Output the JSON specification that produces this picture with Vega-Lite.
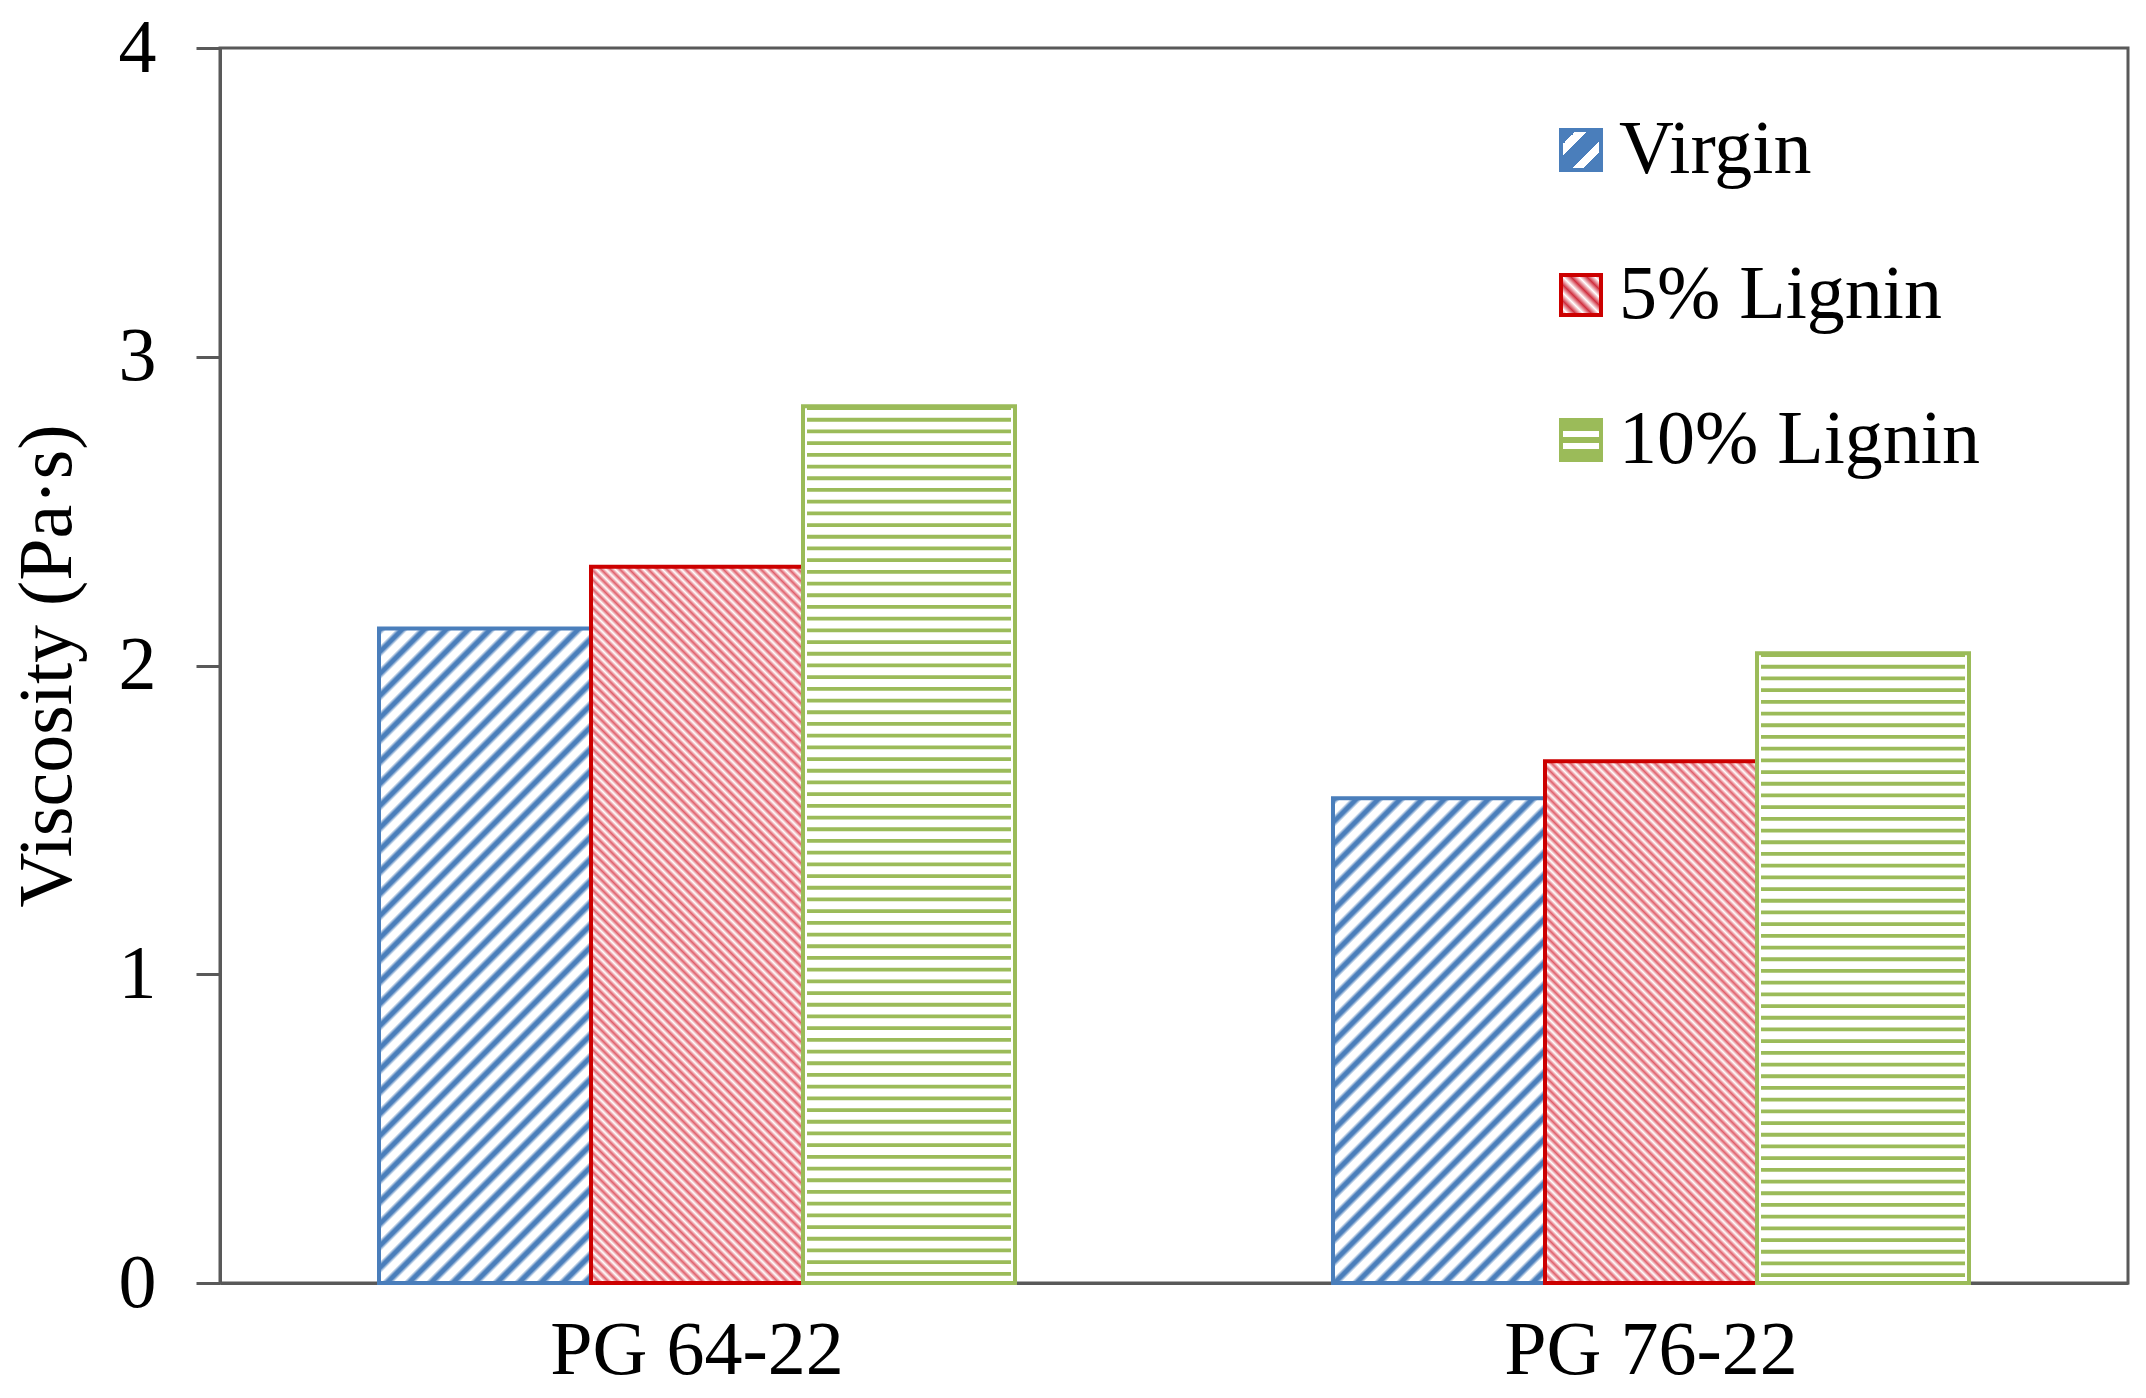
{
"$schema": "https://vega.github.io/schema/vega-lite/v6.json",
"width": 1908,
"height": 1235,
"autosize": {"type": "none"},
"padding": {"left": 220, "top": 48, "right": 18, "bottom": 115},
"background": "white",
"params": [
{"name": "bst", "value": [
{"offset":0,"color":"#4a7ebb"},{"offset":0.005,"color":"#4a7ebb"},{"offset":0.01,"color":"#fff"},{"offset":0.02,"color":"#fff"},
{"offset":0.025,"color":"#4a7ebb"},{"offset":0.03,"color":"#4a7ebb"},{"offset":0.035,"color":"#fff"},{"offset":0.045,"color":"#fff"},
{"offset":0.05,"color":"#4a7ebb"},{"offset":0.055,"color":"#4a7ebb"},{"offset":0.06,"color":"#fff"},{"offset":0.07,"color":"#fff"},
{"offset":0.075,"color":"#4a7ebb"},{"offset":0.08,"color":"#4a7ebb"},{"offset":0.085,"color":"#fff"},{"offset":0.095,"color":"#fff"},
{"offset":0.1,"color":"#4a7ebb"},{"offset":0.105,"color":"#4a7ebb"},{"offset":0.11,"color":"#fff"},{"offset":0.12,"color":"#fff"},
{"offset":0.125,"color":"#4a7ebb"},{"offset":0.13,"color":"#4a7ebb"},{"offset":0.135,"color":"#fff"},{"offset":0.145,"color":"#fff"},
{"offset":0.15,"color":"#4a7ebb"},{"offset":0.155,"color":"#4a7ebb"},{"offset":0.16,"color":"#fff"},{"offset":0.17,"color":"#fff"},
{"offset":0.175,"color":"#4a7ebb"},{"offset":0.18,"color":"#4a7ebb"},{"offset":0.185,"color":"#fff"},{"offset":0.195,"color":"#fff"},
{"offset":0.2,"color":"#4a7ebb"},{"offset":0.205,"color":"#4a7ebb"},{"offset":0.21,"color":"#fff"},{"offset":0.22,"color":"#fff"},
{"offset":0.225,"color":"#4a7ebb"},{"offset":0.23,"color":"#4a7ebb"},{"offset":0.235,"color":"#fff"},{"offset":0.245,"color":"#fff"},
{"offset":0.25,"color":"#4a7ebb"},{"offset":0.255,"color":"#4a7ebb"},{"offset":0.26,"color":"#fff"},{"offset":0.27,"color":"#fff"},
{"offset":0.275,"color":"#4a7ebb"},{"offset":0.28,"color":"#4a7ebb"},{"offset":0.285,"color":"#fff"},{"offset":0.295,"color":"#fff"},
{"offset":0.3,"color":"#4a7ebb"},{"offset":0.305,"color":"#4a7ebb"},{"offset":0.31,"color":"#fff"},{"offset":0.32,"color":"#fff"},
{"offset":0.325,"color":"#4a7ebb"},{"offset":0.33,"color":"#4a7ebb"},{"offset":0.335,"color":"#fff"},{"offset":0.345,"color":"#fff"},
{"offset":0.35,"color":"#4a7ebb"},{"offset":0.355,"color":"#4a7ebb"},{"offset":0.36,"color":"#fff"},{"offset":0.37,"color":"#fff"},
{"offset":0.375,"color":"#4a7ebb"},{"offset":0.38,"color":"#4a7ebb"},{"offset":0.385,"color":"#fff"},{"offset":0.395,"color":"#fff"},
{"offset":0.4,"color":"#4a7ebb"},{"offset":0.405,"color":"#4a7ebb"},{"offset":0.41,"color":"#fff"},{"offset":0.42,"color":"#fff"},
{"offset":0.425,"color":"#4a7ebb"},{"offset":0.43,"color":"#4a7ebb"},{"offset":0.435,"color":"#fff"},{"offset":0.445,"color":"#fff"},
{"offset":0.45,"color":"#4a7ebb"},{"offset":0.455,"color":"#4a7ebb"},{"offset":0.46,"color":"#fff"},{"offset":0.47,"color":"#fff"},
{"offset":0.475,"color":"#4a7ebb"},{"offset":0.48,"color":"#4a7ebb"},{"offset":0.485,"color":"#fff"},{"offset":0.495,"color":"#fff"},
{"offset":0.5,"color":"#4a7ebb"},{"offset":0.505,"color":"#4a7ebb"},{"offset":0.51,"color":"#fff"},{"offset":0.52,"color":"#fff"},
{"offset":0.525,"color":"#4a7ebb"},{"offset":0.53,"color":"#4a7ebb"},{"offset":0.535,"color":"#fff"},{"offset":0.545,"color":"#fff"},
{"offset":0.55,"color":"#4a7ebb"},{"offset":0.555,"color":"#4a7ebb"},{"offset":0.56,"color":"#fff"},{"offset":0.57,"color":"#fff"},
{"offset":0.575,"color":"#4a7ebb"},{"offset":0.58,"color":"#4a7ebb"},{"offset":0.585,"color":"#fff"},{"offset":0.595,"color":"#fff"},
{"offset":0.6,"color":"#4a7ebb"},{"offset":0.605,"color":"#4a7ebb"},{"offset":0.61,"color":"#fff"},{"offset":0.62,"color":"#fff"},
{"offset":0.625,"color":"#4a7ebb"},{"offset":0.63,"color":"#4a7ebb"},{"offset":0.635,"color":"#fff"},{"offset":0.645,"color":"#fff"},
{"offset":0.65,"color":"#4a7ebb"},{"offset":0.655,"color":"#4a7ebb"},{"offset":0.66,"color":"#fff"},{"offset":0.67,"color":"#fff"},
{"offset":0.675,"color":"#4a7ebb"},{"offset":0.68,"color":"#4a7ebb"},{"offset":0.685,"color":"#fff"},{"offset":0.695,"color":"#fff"},
{"offset":0.7,"color":"#4a7ebb"},{"offset":0.705,"color":"#4a7ebb"},{"offset":0.71,"color":"#fff"},{"offset":0.72,"color":"#fff"},
{"offset":0.725,"color":"#4a7ebb"},{"offset":0.73,"color":"#4a7ebb"},{"offset":0.735,"color":"#fff"},{"offset":0.745,"color":"#fff"},
{"offset":0.75,"color":"#4a7ebb"},{"offset":0.755,"color":"#4a7ebb"},{"offset":0.76,"color":"#fff"},{"offset":0.77,"color":"#fff"},
{"offset":0.775,"color":"#4a7ebb"},{"offset":0.78,"color":"#4a7ebb"},{"offset":0.785,"color":"#fff"},{"offset":0.795,"color":"#fff"},
{"offset":0.8,"color":"#4a7ebb"},{"offset":0.805,"color":"#4a7ebb"},{"offset":0.81,"color":"#fff"},{"offset":0.82,"color":"#fff"},
{"offset":0.825,"color":"#4a7ebb"},{"offset":0.83,"color":"#4a7ebb"},{"offset":0.835,"color":"#fff"},{"offset":0.845,"color":"#fff"},
{"offset":0.85,"color":"#4a7ebb"},{"offset":0.855,"color":"#4a7ebb"},{"offset":0.86,"color":"#fff"},{"offset":0.87,"color":"#fff"},
{"offset":0.875,"color":"#4a7ebb"},{"offset":0.88,"color":"#4a7ebb"},{"offset":0.885,"color":"#fff"},{"offset":0.895,"color":"#fff"},
{"offset":0.9,"color":"#4a7ebb"},{"offset":0.905,"color":"#4a7ebb"},{"offset":0.91,"color":"#fff"},{"offset":0.92,"color":"#fff"},
{"offset":0.925,"color":"#4a7ebb"},{"offset":0.93,"color":"#4a7ebb"},{"offset":0.935,"color":"#fff"},{"offset":0.945,"color":"#fff"},
{"offset":0.95,"color":"#4a7ebb"},{"offset":0.955,"color":"#4a7ebb"},{"offset":0.96,"color":"#fff"},{"offset":0.97,"color":"#fff"},
{"offset":0.975,"color":"#4a7ebb"},{"offset":0.98,"color":"#4a7ebb"},{"offset":0.985,"color":"#fff"},{"offset":0.995,"color":"#fff"},
{"offset":1,"color":"#4a7ebb"}
]},
{"name": "rst", "value": [
{"offset":0,"color":"#e0606c"},{"offset":0.005,"color":"#fff"},{"offset":0.01,"color":"#e0606c"},{"offset":0.015,"color":"#fff"},{"offset":0.02,"color":"#e0606c"},{"offset":0.025,"color":"#fff"},{"offset":0.03,"color":"#e0606c"},{"offset":0.035,"color":"#fff"},{"offset":0.04,"color":"#e0606c"},{"offset":0.045,"color":"#fff"},
{"offset":0.05,"color":"#e0606c"},{"offset":0.055,"color":"#fff"},{"offset":0.06,"color":"#e0606c"},{"offset":0.065,"color":"#fff"},{"offset":0.07,"color":"#e0606c"},{"offset":0.075,"color":"#fff"},{"offset":0.08,"color":"#e0606c"},{"offset":0.085,"color":"#fff"},{"offset":0.09,"color":"#e0606c"},{"offset":0.095,"color":"#fff"},
{"offset":0.1,"color":"#e0606c"},{"offset":0.105,"color":"#fff"},{"offset":0.11,"color":"#e0606c"},{"offset":0.115,"color":"#fff"},{"offset":0.12,"color":"#e0606c"},{"offset":0.125,"color":"#fff"},{"offset":0.13,"color":"#e0606c"},{"offset":0.135,"color":"#fff"},{"offset":0.14,"color":"#e0606c"},{"offset":0.145,"color":"#fff"},
{"offset":0.15,"color":"#e0606c"},{"offset":0.155,"color":"#fff"},{"offset":0.16,"color":"#e0606c"},{"offset":0.165,"color":"#fff"},{"offset":0.17,"color":"#e0606c"},{"offset":0.175,"color":"#fff"},{"offset":0.18,"color":"#e0606c"},{"offset":0.185,"color":"#fff"},{"offset":0.19,"color":"#e0606c"},{"offset":0.195,"color":"#fff"},
{"offset":0.2,"color":"#e0606c"},{"offset":0.205,"color":"#fff"},{"offset":0.21,"color":"#e0606c"},{"offset":0.215,"color":"#fff"},{"offset":0.22,"color":"#e0606c"},{"offset":0.225,"color":"#fff"},{"offset":0.23,"color":"#e0606c"},{"offset":0.235,"color":"#fff"},{"offset":0.24,"color":"#e0606c"},{"offset":0.245,"color":"#fff"},
{"offset":0.25,"color":"#e0606c"},{"offset":0.255,"color":"#fff"},{"offset":0.26,"color":"#e0606c"},{"offset":0.265,"color":"#fff"},{"offset":0.27,"color":"#e0606c"},{"offset":0.275,"color":"#fff"},{"offset":0.28,"color":"#e0606c"},{"offset":0.285,"color":"#fff"},{"offset":0.29,"color":"#e0606c"},{"offset":0.295,"color":"#fff"},
{"offset":0.3,"color":"#e0606c"},{"offset":0.305,"color":"#fff"},{"offset":0.31,"color":"#e0606c"},{"offset":0.315,"color":"#fff"},{"offset":0.32,"color":"#e0606c"},{"offset":0.325,"color":"#fff"},{"offset":0.33,"color":"#e0606c"},{"offset":0.335,"color":"#fff"},{"offset":0.34,"color":"#e0606c"},{"offset":0.345,"color":"#fff"},
{"offset":0.35,"color":"#e0606c"},{"offset":0.355,"color":"#fff"},{"offset":0.36,"color":"#e0606c"},{"offset":0.365,"color":"#fff"},{"offset":0.37,"color":"#e0606c"},{"offset":0.375,"color":"#fff"},{"offset":0.38,"color":"#e0606c"},{"offset":0.385,"color":"#fff"},{"offset":0.39,"color":"#e0606c"},{"offset":0.395,"color":"#fff"},
{"offset":0.4,"color":"#e0606c"},{"offset":0.405,"color":"#fff"},{"offset":0.41,"color":"#e0606c"},{"offset":0.415,"color":"#fff"},{"offset":0.42,"color":"#e0606c"},{"offset":0.425,"color":"#fff"},{"offset":0.43,"color":"#e0606c"},{"offset":0.435,"color":"#fff"},{"offset":0.44,"color":"#e0606c"},{"offset":0.445,"color":"#fff"},
{"offset":0.45,"color":"#e0606c"},{"offset":0.455,"color":"#fff"},{"offset":0.46,"color":"#e0606c"},{"offset":0.465,"color":"#fff"},{"offset":0.47,"color":"#e0606c"},{"offset":0.475,"color":"#fff"},{"offset":0.48,"color":"#e0606c"},{"offset":0.485,"color":"#fff"},{"offset":0.49,"color":"#e0606c"},{"offset":0.495,"color":"#fff"},
{"offset":0.5,"color":"#e0606c"},{"offset":0.505,"color":"#fff"},{"offset":0.51,"color":"#e0606c"},{"offset":0.515,"color":"#fff"},{"offset":0.52,"color":"#e0606c"},{"offset":0.525,"color":"#fff"},{"offset":0.53,"color":"#e0606c"},{"offset":0.535,"color":"#fff"},{"offset":0.54,"color":"#e0606c"},{"offset":0.545,"color":"#fff"},
{"offset":0.55,"color":"#e0606c"},{"offset":0.555,"color":"#fff"},{"offset":0.56,"color":"#e0606c"},{"offset":0.565,"color":"#fff"},{"offset":0.57,"color":"#e0606c"},{"offset":0.575,"color":"#fff"},{"offset":0.58,"color":"#e0606c"},{"offset":0.585,"color":"#fff"},{"offset":0.59,"color":"#e0606c"},{"offset":0.595,"color":"#fff"},
{"offset":0.6,"color":"#e0606c"},{"offset":0.605,"color":"#fff"},{"offset":0.61,"color":"#e0606c"},{"offset":0.615,"color":"#fff"},{"offset":0.62,"color":"#e0606c"},{"offset":0.625,"color":"#fff"},{"offset":0.63,"color":"#e0606c"},{"offset":0.635,"color":"#fff"},{"offset":0.64,"color":"#e0606c"},{"offset":0.645,"color":"#fff"},
{"offset":0.65,"color":"#e0606c"},{"offset":0.655,"color":"#fff"},{"offset":0.66,"color":"#e0606c"},{"offset":0.665,"color":"#fff"},{"offset":0.67,"color":"#e0606c"},{"offset":0.675,"color":"#fff"},{"offset":0.68,"color":"#e0606c"},{"offset":0.685,"color":"#fff"},{"offset":0.69,"color":"#e0606c"},{"offset":0.695,"color":"#fff"},
{"offset":0.7,"color":"#e0606c"},{"offset":0.705,"color":"#fff"},{"offset":0.71,"color":"#e0606c"},{"offset":0.715,"color":"#fff"},{"offset":0.72,"color":"#e0606c"},{"offset":0.725,"color":"#fff"},{"offset":0.73,"color":"#e0606c"},{"offset":0.735,"color":"#fff"},{"offset":0.74,"color":"#e0606c"},{"offset":0.745,"color":"#fff"},
{"offset":0.75,"color":"#e0606c"},{"offset":0.755,"color":"#fff"},{"offset":0.76,"color":"#e0606c"},{"offset":0.765,"color":"#fff"},{"offset":0.77,"color":"#e0606c"},{"offset":0.775,"color":"#fff"},{"offset":0.78,"color":"#e0606c"},{"offset":0.785,"color":"#fff"},{"offset":0.79,"color":"#e0606c"},{"offset":0.795,"color":"#fff"},
{"offset":0.8,"color":"#e0606c"},{"offset":0.805,"color":"#fff"},{"offset":0.81,"color":"#e0606c"},{"offset":0.815,"color":"#fff"},{"offset":0.82,"color":"#e0606c"},{"offset":0.825,"color":"#fff"},{"offset":0.83,"color":"#e0606c"},{"offset":0.835,"color":"#fff"},{"offset":0.84,"color":"#e0606c"},{"offset":0.845,"color":"#fff"},
{"offset":0.85,"color":"#e0606c"},{"offset":0.855,"color":"#fff"},{"offset":0.86,"color":"#e0606c"},{"offset":0.865,"color":"#fff"},{"offset":0.87,"color":"#e0606c"},{"offset":0.875,"color":"#fff"},{"offset":0.88,"color":"#e0606c"},{"offset":0.885,"color":"#fff"},{"offset":0.89,"color":"#e0606c"},{"offset":0.895,"color":"#fff"},
{"offset":0.9,"color":"#e0606c"},{"offset":0.905,"color":"#fff"},{"offset":0.91,"color":"#e0606c"},{"offset":0.915,"color":"#fff"},{"offset":0.92,"color":"#e0606c"},{"offset":0.925,"color":"#fff"},{"offset":0.93,"color":"#e0606c"},{"offset":0.935,"color":"#fff"},{"offset":0.94,"color":"#e0606c"},{"offset":0.945,"color":"#fff"},
{"offset":0.95,"color":"#e0606c"},{"offset":0.955,"color":"#fff"},{"offset":0.96,"color":"#e0606c"},{"offset":0.965,"color":"#fff"},{"offset":0.97,"color":"#e0606c"},{"offset":0.975,"color":"#fff"},{"offset":0.98,"color":"#e0606c"},{"offset":0.985,"color":"#fff"},{"offset":0.99,"color":"#e0606c"},{"offset":0.995,"color":"#fff"},
{"offset":1,"color":"#e0606c"}
]},
{"name": "lvb", "value": [
{"offset":0,"color":"#4a7ebb"},{"offset":0.2,"color":"#4a7ebb"},{"offset":0.2,"color":"#fff"},{"offset":0.34,"color":"#fff"},{"offset":0.34,"color":"#4a7ebb"},{"offset":0.62,"color":"#4a7ebb"},{"offset":0.62,"color":"#fff"},{"offset":0.76,"color":"#fff"},{"offset":0.76,"color":"#4a7ebb"},{"offset":1,"color":"#4a7ebb"}
]},
{"name": "lvr", "value": [
{"offset":0,"color":"#d03040"},{"offset":0.1,"color":"#fff"},{"offset":0.2,"color":"#d03040"},{"offset":0.3,"color":"#fff"},{"offset":0.4,"color":"#d03040"},{"offset":0.5,"color":"#fff"},{"offset":0.6,"color":"#d03040"},{"offset":0.7,"color":"#fff"},{"offset":0.8,"color":"#d03040"},{"offset":0.9,"color":"#fff"},{"offset":1,"color":"#d03040"}
]},
{"name": "lvg", "value": [
{"offset":0,"color":"#9bbb59"},{"offset":0.28,"color":"#9bbb59"},{"offset":0.28,"color":"#fff"},{"offset":0.42,"color":"#fff"},{"offset":0.42,"color":"#9bbb59"},{"offset":0.58,"color":"#9bbb59"},{"offset":0.58,"color":"#fff"},{"offset":0.72,"color":"#fff"},{"offset":0.72,"color":"#9bbb59"},{"offset":1,"color":"#9bbb59"}
]}
],
"data": {"values": [
{"group": "PG 64-22", "series": "Virgin", "value": 2.12},
{"group": "PG 64-22", "series": "5% Lignin", "value": 2.32},
{"group": "PG 64-22", "series": "10% Lignin", "value": 2.84},
{"group": "PG 76-22", "series": "Virgin", "value": 1.57},
{"group": "PG 76-22", "series": "5% Lignin", "value": 1.69},
{"group": "PG 76-22", "series": "10% Lignin", "value": 2.04}
]},
"encoding": {
"x": {"field": "group", "type": "nominal", "sort": null,
  "scale": {"paddingInner": 0.33333, "paddingOuter": 0.166667},
  "axis": {"title": null, "labelAngle": 0, "ticks": false, "tickSize": 0, "labelPadding": 30, "labelLimit": 0, "labelFontSize": 76, "labelFont": "Liberation Serif", "labelColor": "#000", "domainColor": "#595959", "domainWidth": 3}},
"xOffset": {"field": "series", "type": "nominal", "sort": null,
  "scale": {"domain": ["Virgin", "5% Lignin", "10% Lignin"], "paddingInner": 0, "paddingOuter": 0}},
"y": {"field": "value", "type": "quantitative",
  "scale": {"domain": [0, 4], "nice": false},
  "axis": {"values": [0, 1, 2, 3, 4], "format": "d", "grid": false, "tickSize": 24, "tickWidth": 3, "tickColor": "#595959", "domainColor": "#595959", "domainWidth": 3, "labelPadding": 40, "labelFontSize": 76, "labelFont": "Liberation Serif", "labelColor": "#000", "title": "Viscosity (Pa·s)", "titleFont": "Liberation Serif", "titleFontSize": 76, "titleFontWeight": "normal", "titleColor": "#000", "titlePadding": 32}}
},
"layer": [
{
"mark": {"type": "bar", "strokeWidth": 4,
  "fill": {"expr": "!isValid(datum.series) ? (datum.value === 'Virgin' ? {gradient: 'linear', x1: 0, y1: 0, x2: 1, y2: 1, stops: lvb} : datum.value === '5% Lignin' ? {gradient: 'linear', x1: 0, y1: 1, x2: 1, y2: 0, stops: lvr} : {gradient: 'linear', x1: 0, y1: 0, x2: 0.0001, y2: 1, stops: lvg}) : datum.series === 'Virgin' ? {gradient: 'linear', x1: 0, y1: 0, x2: 212*880/(44944+pow(datum.value*308.75,2)), y2: datum.value*308.75*880/(44944+pow(datum.value*308.75,2)), stops: bst} : datum.series === '5% Lignin' ? {gradient: 'linear', x1: 0, y1: 1, x2: 212*940/(44944+pow(datum.value*308.75,2)), y2: 1-datum.value*308.75*940/(44944+pow(datum.value*308.75,2)), stops: rst} : '#ffffff'"}},
"encoding": {
  "stroke": {"field": "series", "type": "nominal", "sort": null,
    "scale": {"domain": ["Virgin", "5% Lignin", "10% Lignin"], "range": ["#4a7ebb", "#cc0000", "#9bbb59"]},
    "legend": {"title": null, "orient": "none", "legendX": 1323, "legendY": 64, "direction": "vertical",
      "symbolType": "square", "symbolSize": 1600, "symbolStrokeWidth": 4,
      "labelFont": "Liberation Serif", "labelFontSize": 76, "labelColor": "#000", "labelOffset": 0, "labelLimit": 0, "rowPadding": 69}}
  }
},
{
"transform": [{"filter": "datum.series === '10% Lignin'"}],
"mark": {"type": "rule", "strokeWidth": 204, "strokeDash": [3.8, 7.9], "color": "#9bbb59", "strokeCap": "butt"},
"encoding": {"y2": {"datum": 0}}
}
],
"config": {
"font": "Liberation Serif",
"view": {"stroke": "#595959", "strokeWidth": 3}
}
}
